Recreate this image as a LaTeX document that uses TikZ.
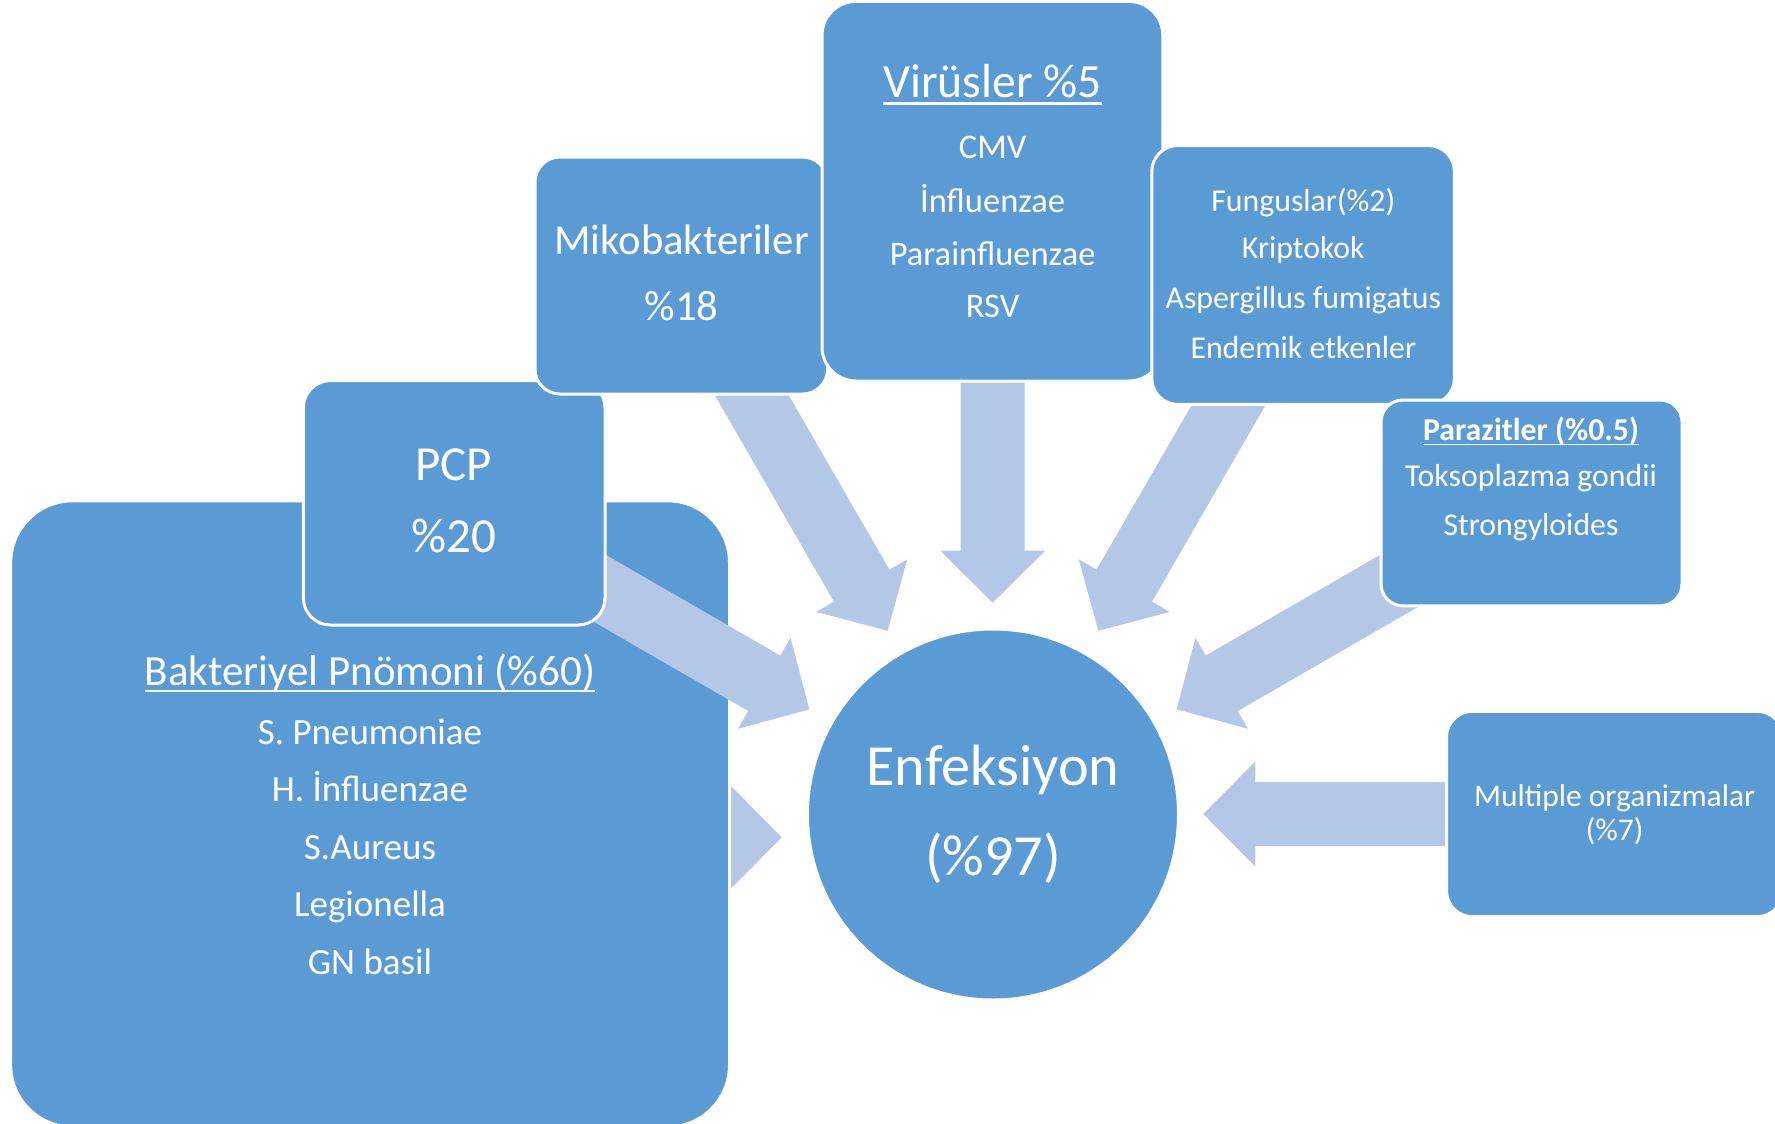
\documentclass[tikz,border=0pt]{standalone}
\usepackage{fontspec}
\setmainfont{Carlito}
\usetikzlibrary{calc}
\definecolor{boxblue}{HTML}{5B9BD5}
\definecolor{arrowblue}{HTML}{B4C7E7}
\newsavebox\ulsave
\newcommand\ulx[1]{\sbox\ulsave{#1}\rlap{\rule[-0.16em]{\wd\ulsave}{0.055em}}\usebox\ulsave}
\newcommand\blkarrow[2]{%
  \coordinate (hb) at ($(#2)!52pt!(#1)$);
  \fill[arrowfill] ($(#1)!32pt!90:(#2)$) -- ($(hb)!32pt!90:(#2)$) -- ($(hb)!52.5pt!90:(#2)$) -- (#2)
     -- ($(hb)!52.5pt!-90:(#2)$) -- ($(hb)!32pt!-90:(#2)$) -- ($(#1)!32pt!-90:(#2)$) -- cycle;
}
\tikzset{
  boxshape/.style={draw=white, line width=3pt, fill=boxblue, inner sep=0pt, rectangle},
  arrowfill/.style={fill=arrowblue},
  txt/.style={text=white, anchor=base, inner sep=0pt},
  fbig/.style={font=\fontsize{43pt}{50pt}\selectfont},
  fitem/.style={font=\fontsize{37pt}{44pt}\selectfont},
  fpcp/.style={font=\fontsize{49pt}{56pt}\selectfont},
  fmiko/.style={font=\fontsize{42.7pt}{50pt}\selectfont},
  fvir/.style={font=\fontsize{47.7pt}{54pt}\selectfont},
  fvitem/.style={font=\fontsize{34.5pt}{40pt}\selectfont},
  fsmall/.style={font=\fontsize{31.8pt}{38pt}\selectfont},
  fsmallbold/.style={font=\fontsize{31.8pt}{38pt}\selectfont\bfseries},
  fmul/.style={font=\fontsize{31.5pt}{36pt}\selectfont},
  fenf/.style={font=\fontsize{58.2pt}{66pt}\selectfont},
}
\begin{document}
\begin{tikzpicture}[x=1pt,y=-1pt]
\useasboundingbox (0,0) rectangle (1775,1124);
\clip (0,0) rectangle (1775,1124);
% arrow coordinates
\coordinate (t1) at (720.2,340.6);   \coordinate (p1) at (887.7,630.7);
\coordinate (t2) at (992.7,300);     \coordinate (p2) at (992.7,602.7);
\coordinate (t3) at (1265.8,340.6);  \coordinate (p3) at (1098.3,630.7);
\coordinate (t4) at (549.5,559.3);   \coordinate (p4) at (809.3,709.3);
\coordinate (t5) at (1436.5,559.3);  \coordinate (p5) at (1176.7,709.3);
\coordinate (t6) at (500,837.3);     \coordinate (p6) at (781.7,837.3);
\coordinate (t7) at (1550,814);      \coordinate (p7) at (1203.3,814);
% arrow hidden behind the large box
\blkarrow{t6}{p6}
% large box
\node[boxshape, rounded corners=62pt, minimum width=718.8pt, minimum height=626.2pt] (bak) at (370.1,813.9) {};
% other arrows
\blkarrow{t1}{p1}
\blkarrow{t2}{p2}
\blkarrow{t3}{p3}
\blkarrow{t4}{p4}
\blkarrow{t5}{p5}
\blkarrow{t7}{p7}
% boxes
\node[boxshape, rounded corners=27pt, minimum width=301.6pt, minimum height=244.4pt] (pcp) at (454.2,502.8) {};
\node[boxshape, rounded corners=25pt, minimum width=292.6pt, minimum height=237pt] (miko) at (681.3,275.5) {};
\node[boxshape, rounded corners=34pt, minimum width=340.8pt, minimum height=379.6pt] (vir) at (992.4,191.2) {};
\node[boxshape, rounded corners=26pt, minimum width=302.6pt, minimum height=258.9pt] (fun) at (1303.1,274.95) {};
\node[boxshape, rounded corners=22pt, minimum width=301pt, minimum height=205.8pt] (par) at (1531.5,502.9) {};
\node[boxshape, rounded corners=26pt, minimum width=336.5pt, minimum height=205.4pt] (mul) at (1614.75,814) {};
\node[boxshape, circle, minimum size=371pt] (enf) at (993,814.5) {};
% texts: bacterial
\node[txt, fbig] (bak1) at (370,685) {\ulx{Bakteriyel Pnömoni (\%60)}};
\node[txt, fitem] (bak2) at (370,744) {S. Pneumoniae};
\node[txt, fitem] (bak3) at (370,801.5) {H. İnfluenzae};
\node[txt, fitem] (bak4) at (370,859) {S.Aureus};
\node[txt, fitem] (bak5) at (370,916.5) {Legionella};
\node[txt, fitem] (bak6) at (370,974) {GN basil};
% PCP
\node[txt, fpcp] (pcp1) at (453.7,480.6) {PCP};
\node[txt, fpcp] (pcp2) at (453.7,552.8) {\%20};
% Mikobakteriler
\node[txt, fmiko] (miko1) at (681.6,254.9) {Mikobakteriler};
\node[txt, fmiko] (miko2) at (681.6,320) {\%18};
% Virusler
\node[txt, fvir] (vir1) at (992.6,97.4) {\ulx{Virüsler \%5}};
\node[txt, fvitem] (vir2) at (992.6,158.4) {CMV};
\node[txt, fvitem] (vir3) at (992.6,212.2) {İnfluenzae};
\node[txt, fvitem] (vir4) at (992.6,265.4) {Parainfluenzae};
\node[txt, fvitem] (vir5) at (992.6,317.8) {RSV};
% Funguslar
\node[txt, fsmall] (fun1) at (1303.3,211.6) {Funguslar(\%2)};
\node[txt, fsmall] (fun2) at (1303.3,258.5) {Kriptokok};
\node[txt, fsmall] (fun3) at (1303.3,308.9) {Aspergillus fumigatus};
\node[txt, fsmall] (fun4) at (1303.3,358) {Endemik etkenler};
% Parazitler
\node[txt, fsmallbold] (par1) at (1531,440.2) {\ulx{Parazitler (\%0.5)}};
\node[txt, fsmall] (par2) at (1531,486.1) {Toksoplazma gondii};
\node[txt, fsmall] (par3) at (1531,535.2) {Strongyloides};
% Multiple
\node[txt, fmul] (mul1) at (1614.6,806) {Multiple organizmalar};
\node[txt, fmul] (mul2) at (1614.6,840.5) {(\%7)};
% center
\node[txt, fenf] (enf1) at (993,785) {Enfeksiyon};
\node[txt, fenf] (enf2) at (993,875.6) {(\%97)};
\end{tikzpicture}
\end{document}
